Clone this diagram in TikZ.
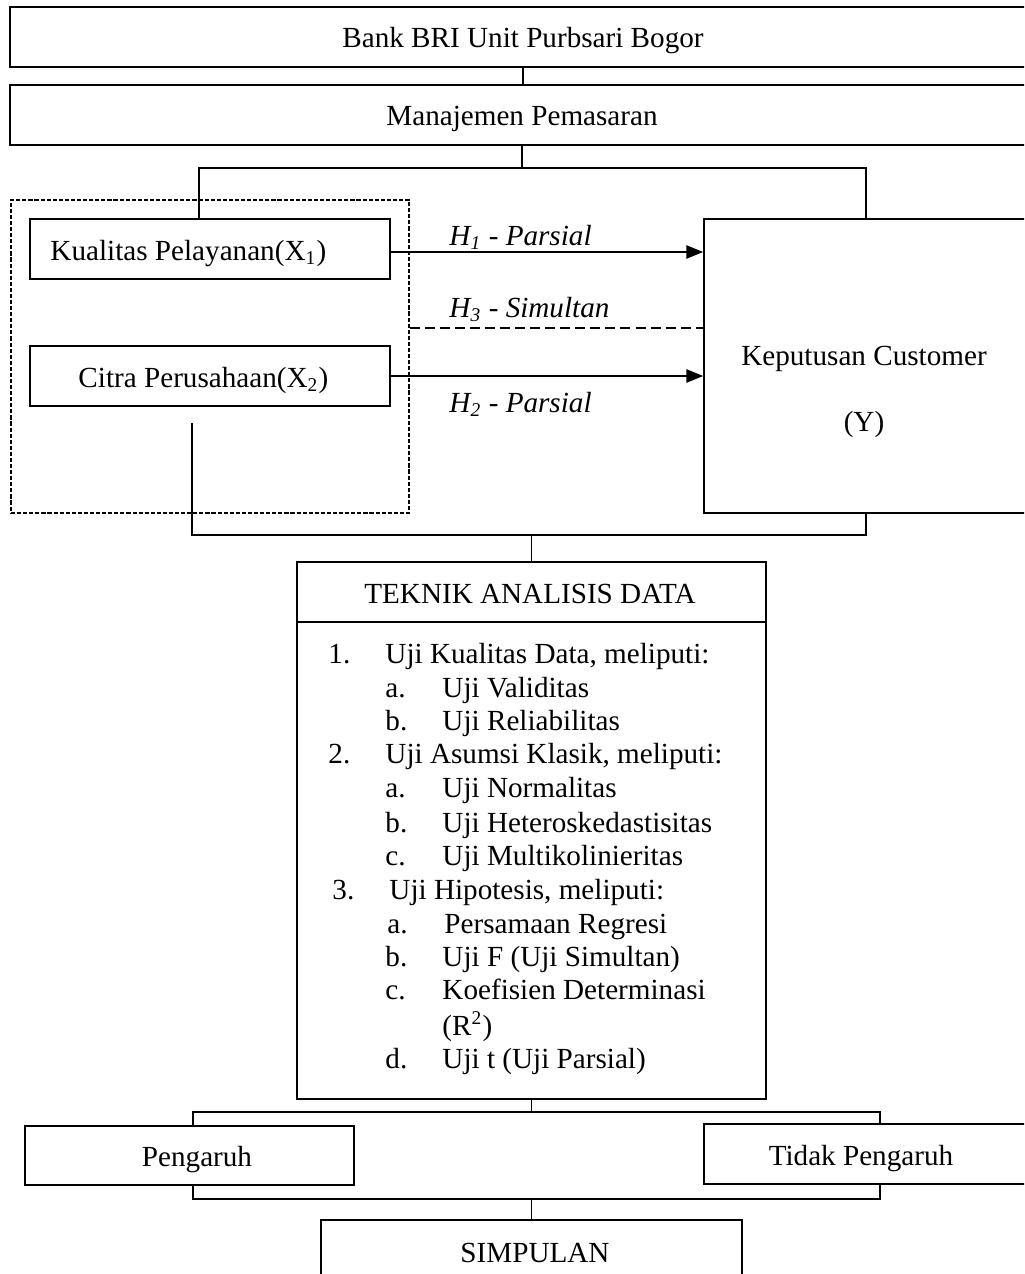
\documentclass[tikz,border=0pt]{standalone}
\usepackage{fontspec}
\setmainfont{Liberation Serif}
\usetikzlibrary{arrows.meta}
% one drawing unit = one pixel of the 1024 x 1274 sheet
\def\pxu{0.4115pt}
\tikzset{
  wh/.style 2 args={minimum width=#1*\pxu, minimum height=#2*\pxu},
  frame/.style={draw, line width=0.6pt, rectangle, inner sep=0pt},
  grpbox/.style={draw, line width=0.45pt, dash pattern=on 1.7pt off 0.8pt, inner sep=0pt},
  conn/.style={line width=0.45pt},
  arr/.style={line width=1pt, -{Triangle[length=7pt,width=5.4pt]}},
  simline/.style={line width=1pt, dash pattern=on 4.1pt off 2.1pt},
  txt/.style={anchor=base},
  ltxt/.style={anchor=base west},
}
\begin{document}
\begin{tikzpicture}[x=0.4115pt, y=-0.4115pt,
  every node/.style={font=\fontsize{12pt}{13.8pt}\selectfont, inner sep=0pt}]
\path[use as bounding box] (0,0) rectangle (1024,1274);
\fill[white] (0,0) rectangle (1024,1274);
\clip (0,0) rectangle (1024,1274);

% boxes
\node[frame, wh={1026}{60}] (top) at (523,37) {};
\node[frame, wh={1024}{60}] (mgmt) at (522,115) {};
\node[grpbox, wh={398}{313}] (grp) at (210,356.5) {};
\node[frame, wh={360}{60}] (kual) at (210,249) {};
\node[frame, wh={360}{60}] (citra) at (210,376) {};
\node[frame, wh={340}{294}] (Y) at (874,366) {};
\node[frame, wh={469}{537}] (tek) at (531.5,830.5) {};
\node[frame, wh={329}{59}] (peng) at (189.5,1155.5) {};
\node[frame, wh={340}{60}] (tidak) at (874,1154) {};
\node[frame, wh={421}{80}] (simp) at (531.5,1260) {};

% header rule of the analysis box
\coordinate (hd) at (0,622);
\draw[line width=0.6pt] (tek.west |- hd) -- (tek.east |- hd);

% box texts
\node[txt] (topT) at (523,48) {Bank BRI Unit Purbsari Bogor};
\node[txt] (mgmtT) at (522,126) {Manajemen Pemasaran};
\node[ltxt] (kualT) at (50,260) {Kualitas Pelayanan(X\textsubscript{1})};
\node[ltxt] (citraT) at (78,387) {Citra Perusahaan(X\textsubscript{2})};
\node[txt] (yT1) at (864,365) {Keputusan Customer};
\node[txt] (yT2) at (864,431) {(Y)};
\node[txt] (tekT) at (530,603) {TEKNIK ANALISIS DATA};
\node[txt] (pengT) at (197,1166) {Pengaruh};
\node[txt] (tidakT) at (861,1165) {Tidak Pengaruh};
\node[txt] (simpT) at (535,1262) {SIMPULAN};

% list inside the analysis box
\node[ltxt] (n1) at (328,663) {1.};
\node[ltxt] (l1) at (385,663) {Uji Kualitas Data, meliputi:};
\node[ltxt] (n1a) at (385,697) {a.};
\node[ltxt] (l1a) at (442,697) {Uji Validitas};
\node[ltxt] (n1b) at (385,730) {b.};
\node[ltxt] (l1b) at (442,730) {Uji Reliabilitas};
\node[ltxt] (n2) at (328,763) {2.};
\node[ltxt] (l2) at (385,763) {Uji Asumsi Klasik, meliputi:};
\node[ltxt] (n2a) at (385,797) {a.};
\node[ltxt] (l2a) at (442,797) {Uji Normalitas};
\node[ltxt] (n2b) at (385,832) {b.};
\node[ltxt] (l2b) at (442,832) {Uji Heteroskedastisitas};
\node[ltxt] (n2c) at (385,865) {c.};
\node[ltxt] (l2c) at (442,865) {Uji Multikolinieritas};
\node[ltxt] (n3) at (332,899) {3.};
\node[ltxt] (l3) at (389,899) {Uji Hipotesis, meliputi:};
\node[ltxt] (n3a) at (387,933) {a.};
\node[ltxt] (l3a) at (444,933) {Persamaan Regresi};
\node[ltxt] (n3b) at (385,966) {b.};
\node[ltxt] (l3b) at (442,966) {Uji F (Uji Simultan)};
\node[ltxt] (n3c) at (385,999) {c.};
\node[ltxt] (l3c) at (442,999) {Koefisien Determinasi};
\node[ltxt] (l3c2) at (442,1035) {(R\textsuperscript{2})};
\node[ltxt] (n3d) at (385,1068) {d.};
\node[ltxt] (l3d) at (442,1068) {Uji t (Uji Parsial)};

% hypothesis labels
\node[ltxt] (h1) at (449,245) {\textit{H\textsubscript{1} - Parsial}};
\node[ltxt] (h3) at (449,317) {\textit{H\textsubscript{3} - Simultan}};
\node[ltxt] (h2) at (449,412) {\textit{H\textsubscript{2} - Parsial}};

% junction points of the tree connectors
\coordinate (j1) at (199,168);
\coordinate (j2) at (866,168);
\coordinate (cdrop) at (192,423);
\coordinate (j3) at (192,535);
\coordinate (j4) at (866,535);
\coordinate (j5) at (193,1112);
\coordinate (j6) at (880,1112);
\coordinate (j7) at (193,1199);
\coordinate (j8) at (880,1199);
\coordinate (a1) at (0,252);
\coordinate (a3) at (0,328);

% tree connectors
\draw[conn] (top.south) -- (top.south |- mgmt.north);
\draw[conn] (mgmt.south) -- (mgmt.south |- j1);
\draw[conn] (kual.north -| j1) -- (j1) -- (j2) -- (Y.north -| j2);
\draw[conn] (cdrop) -- (j3) -- (j4) -- (Y.south -| j4);
\draw[conn] (tek.north) -- (tek.north |- j3);
\draw[conn] (tek.south) -- (tek.south |- j5);
\draw[conn] (peng.north -| j5) -- (j5) -- (j6) -- (tidak.north -| j6);
\draw[conn] (peng.south -| j7) -- (j7) -- (j8) -- (tidak.south -| j8);
\draw[conn] (simp.north) -- (simp.north |- j7);

% hypothesis links
\draw[arr] (kual.east |- a1) -- (Y.west |- a1);
\draw[simline] (grp.east |- a3) -- (Y.west |- a3);
\draw[arr] (citra.east) -- (citra.east -| Y.west);
\end{tikzpicture}
\end{document}
